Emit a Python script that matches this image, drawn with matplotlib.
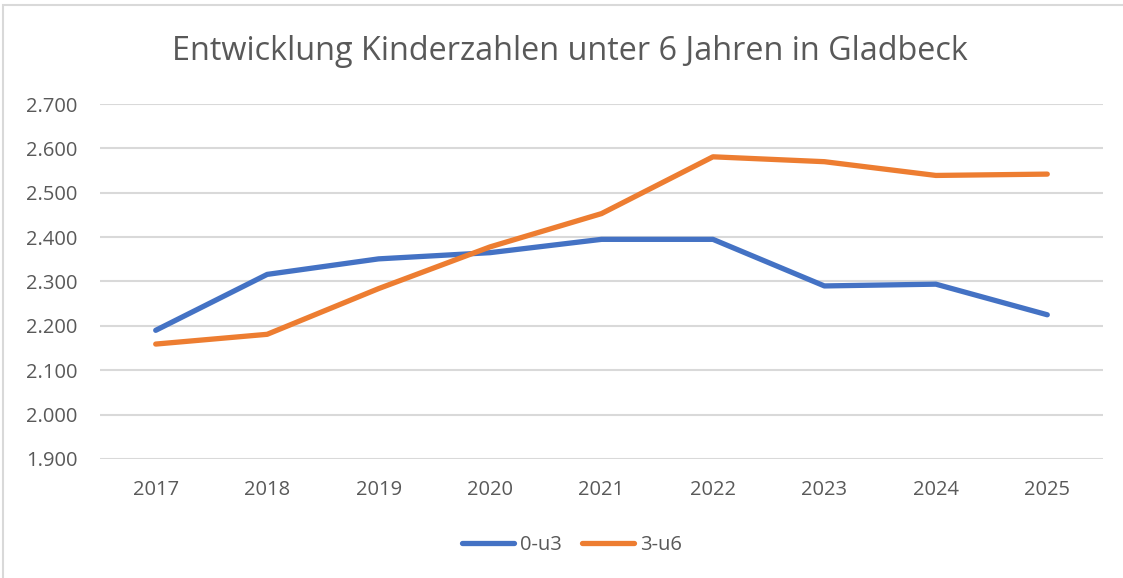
import matplotlib.pyplot as plt
from matplotlib.patches import Rectangle
from matplotlib.ticker import FuncFormatter

# data
years = ["2017", "2018", "2019", "2020", "2021", "2022", "2023", "2024", "2025"]
u3 = [2190, 2316, 2351, 2365, 2395, 2395, 2290, 2294, 2225]
u6 = [2159, 2181, 2284, 2378, 2453, 2581, 2570, 2539, 2542]
y_ticks = [1900, 2000, 2100, 2200, 2300, 2400, 2500, 2600, 2700]

plt.rcParams['font.family'] = ['Open Sans', 'DejaVu Sans']

fig = plt.figure(figsize=(11.23, 5.78), dpi=100)
W, H = 1123, 578
ax = fig.add_axes([100 / W, 1 - 459 / H, (1103 - 100) / W, (459 - 104) / H])

x = range(len(years))
ax.plot(x, u3, color="#4472C4", linewidth=3.8, label="0-u3", solid_capstyle="round")
ax.plot(x, u6, color="#ED7D31", linewidth=3.8, label="3-u6", solid_capstyle="round")

ax.set_xlim(-0.5, len(years) - 0.5)
ax.set_ylim(1900, 2700)
ax.set_yticks(y_ticks)
ax.yaxis.set_major_formatter(FuncFormatter(lambda v, p: f"{int(v):,}".replace(",", ".")))
ax.set_xticks(list(x))
ax.set_xticklabels(years)
ax.grid(axis="y", color="#D9D9D9", linewidth=1.5)
ax.set_axisbelow(True)
for s in ax.spines.values():
    s.set_visible(False)
ax.tick_params(length=0, labelsize=14.5, colors="#595959")
ax.tick_params(axis="x", pad=15)
ax.tick_params(axis="y", pad=16)

fig.text(0.5075, 1 - 51 / H, "Entwicklung Kinderzahlen unter 6 Jahren in Gladbeck",
         ha="center", va="center", fontsize=23.3, color="#595959")

fig.legend(loc="center", bbox_to_anchor=(572 / W, 1 - 545 / H), ncol=2, frameon=False,
           fontsize=14.5, labelcolor="#595959", handlelength=2.6, handletextpad=0.3,
           columnspacing=1.0)

# chart border
fig.patches.append(Rectangle((3 / W, -0.01), 1.2, 1 - 5 / H + 0.01, transform=fig.transFigure,
                             fill=False, edgecolor="#D9D9D9", linewidth=1.5))

plt.savefig("out.png", dpi=100)
